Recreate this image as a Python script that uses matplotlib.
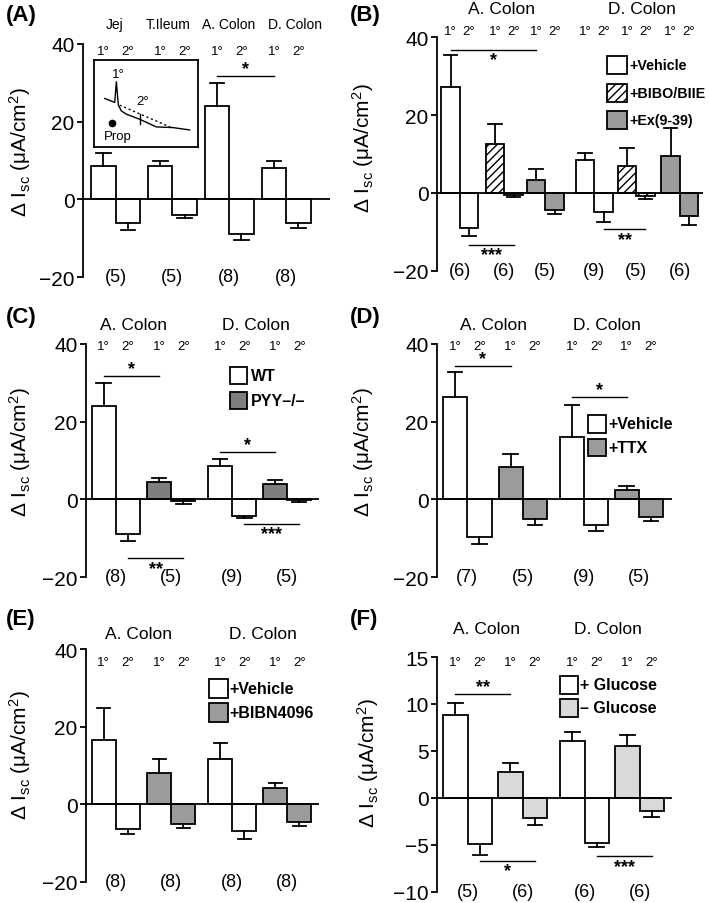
import matplotlib
matplotlib.use('Agg')
import matplotlib.pyplot as plt
from matplotlib.patches import Rectangle

plt.rcParams['font.family'] = ['Liberation Sans', 'DejaVu Sans']
plt.rcParams['mathtext.fontset'] = 'custom'
plt.rcParams['mathtext.rm'] = 'Liberation Sans'
plt.rcParams['mathtext.it'] = 'Liberation Sans:italic'
plt.rcParams['mathtext.bf'] = 'Liberation Sans:bold'
plt.rcParams['hatch.linewidth'] = 1.0

W, H = 709, 904
fig = plt.figure(figsize=(W / 100, H / 100), dpi=100)


def fx(x):
    return x / W


def fy(y):
    return 1 - y / H


WHITE = 'white'
GRAY = '#9b9b9b'
DARK = '#7f7f7f'
LIGHT = '#d9d9d9'

# ---------------- data ----------------
pulse_labels = ['1°', '2°']

a_regions = ['Jej', 'T.Ileum', 'A. Colon', 'D. Colon']
a_means = [8.5, -6.2, 8.7, -4.1, 24.0, -8.8, 8.0, -6.0]
a_errs = [3.5, 1.7, 1.3, 0.6, 6.0, 1.7, 1.8, 1.3]
a_n = ['(5)', '(5)', '(8)', '(8)']
a_sig = [(4, 6, 31.8, '*', 'above')]

b_regions = ['A. Colon', 'D. Colon']
b_treatments = ['+Vehicle', '+BIBO/BIIE', '+Ex(9-39)']
b_means = [27.2, -9.0, 12.6, -0.6, 3.4, -4.5, 8.5, -4.9, 6.8, -0.7, 9.6, -5.9]
b_errs = [8.3, 2.0, 5.0, 0.4, 2.7, 1.0, 1.8, 2.7, 4.7, 0.8, 7.1, 2.4]
b_n = ['(6)', '(6)', '(5)', '(9)', '(5)', '(6)']
b_sig = [(0, 4, 36.8, '*', 'below'), (1, 3, -13.3, '***', 'below'),
         (7, 9, -9.4, '**', 'below')]

c_regions = ['A. Colon', 'D. Colon']
c_treatments = ['WT', 'PYY\u2013/\u2013']
c_means = [24.0, -8.8, 4.5, -0.4, 8.6, -4.3, 3.9, -0.3]
c_errs = [6.0, 1.9, 1.1, 0.7, 1.7, 0.6, 1.2, 0.3]
c_n = ['(8)', '(5)', '(9)', '(5)']
c_sig = [(0, 2, 31.7, '*', 'above'), (1, 3, -15.2, '**', 'below'),
         (4, 6, 12.3, '*', 'above'), (5, 7, -6.3, '***', 'below')]

d_regions = ['A. Colon', 'D. Colon']
d_treatments = ['+Vehicle', '+TTX']
d_means = [26.4, -9.7, 8.4, -5.0, 16.0, -6.7, 2.4, -4.5]
d_errs = [6.3, 1.9, 3.4, 1.7, 8.4, 1.4, 1.1, 1.2]
d_n = ['(7)', '(5)', '(9)', '(5)']
d_sig = [(0, 2, 34.3, '*', 'above'), (4, 6, 26.4, '*', 'above')]

e_regions = ['A. Colon', 'D. Colon']
e_treatments = ['+Vehicle', '+BIBN4096']
e_means = [16.5, -6.3, 8.1, -5.0, 11.8, -6.9, 4.3, -4.5]
e_errs = [8.2, 1.3, 3.7, 1.0, 4.1, 1.9, 1.1, 1.1]
e_n = ['(8)', '(8)', '(8)', '(8)']
e_sig = []

f_regions = ['A. Colon', 'D. Colon']
f_treatments = ['+ Glucose', '\u2013 Glucose']
f_means = [8.8, -4.9, 2.8, -2.1, 6.1, -4.8, 5.5, -1.4]
f_errs = [1.3, 1.2, 0.9, 0.8, 0.9, 0.4, 1.2, 0.6]
f_n = ['(5)', '(6)', '(6)', '(6)']
f_sig = [(0, 2, 11.1, '**', 'above'), (1, 3, -6.7, '*', 'below'),
         (5, 7, -6.2, '***', 'below')]

# inset schematic trace (axes fraction)
trace_x = [0.103, 0.199, 0.215, 0.234, 0.263, 0.311, 0.439, 0.599, 0.760, 0.920]
trace_y = [0.558, 0.512, 0.750, 0.481, 0.415, 0.377, 0.319, 0.231, 0.223, 0.196]
dotted_x = [0.247, 0.744]
dotted_y = [0.481, 0.223]

YLABEL = 'Δ I$_{\\mathrm{sc}}$ (μA/cm$^{2}$)'
LW = 1.3


def panel(box, ylim, yticks, xlim, starts, means, errs, fills, hatches, nlabels,
          regions, region_x, region_y, region_fs, pulse_y, sig, cap_half):
    left, top, right, bottom = box
    ax = fig.add_axes([fx(left), fy(bottom), (right - left) / W, (bottom - top) / H])
    ax.set_xlim(*xlim)
    ax.set_ylim(*ylim)
    for s in ['top', 'right', 'bottom']:
        ax.spines[s].set_visible(False)
    ax.spines['left'].set_linewidth(LW)
    ax.set_xticks([])
    ax.set_yticks(yticks)
    ax.tick_params(axis='y', direction='out', length=4, width=LW, pad=2, labelsize=15)
    ax.patch.set_alpha(0)

    xs = [starts[i // 2] + (i % 2) + 0.5 for i in range(len(means))]
    for i, (x, m, e) in enumerate(zip(xs, means, errs)):
        g = i // 2
        ax.bar(x, m, width=1.0, facecolor=fills[g], edgecolor='black',
               linewidth=LW, hatch=hatches[g], zorder=2)
        tip = m + e if m >= 0 else m - e
        ax.plot([x, x], [m, tip], color='black', lw=LW, zorder=3)
        ax.plot([x - cap_half, x + cap_half], [tip, tip], color='black', lw=LW, zorder=3)
        ax.text(x, pulse_y, pulse_labels[i % 2], ha='center', va='center',
                fontsize=9.5, clip_on=False)
    ax.axhline(0, color='black', lw=LW, zorder=4)

    for g, lab in enumerate(nlabels):
        ax.text(starts[g] + 1.0, ylim[0], lab, ha='center', va='center',
                fontsize=13, clip_on=False)
    for lab, rx in zip(regions, region_x):
        ax.text(rx, region_y, lab, ha='center', va='center', fontsize=region_fs,
                clip_on=False)
    for i, j, y, s, pos in sig:
        ax.plot([xs[i], xs[j]], [y, y], color='black', lw=1.0, clip_on=False)
        off = 2.0 if pos == 'above' else -10.5
        ax.annotate(s, ((xs[i] + xs[j]) / 2, y), xytext=(0, off),
                    textcoords='offset points', ha='center', va='baseline',
                    fontsize=13, fontweight='bold', annotation_clip=False)
    return ax


def legend(entries, x0, top0, w, h, step, tx, fs=11.5):
    for k, (lab, fc, ht) in enumerate(entries):
        t = top0 + k * step
        r = Rectangle((fx(x0), fy(t + h)), w / W, h / H, transform=fig.transFigure,
                      facecolor=fc, edgecolor='black', lw=LW, hatch=ht)
        fig.add_artist(r)
        fig.text(fx(tx), fy(t + h / 2), lab, ha='left', va='center',
                 fontsize=fs, fontweight='bold')


Y4 = [-20, 0, 20, 40]

# ---- Panel A ----
axA = panel((83, 45, 330, 278), (-20, 40), Y4, (-0.34, 9.8), [0, 2.33, 4.66, 7.0],
            a_means, a_errs, [WHITE] * 4, [None] * 4, a_n,
            a_regions, [0.97, 3.14, 5.64, 8.35], 45.1, 10, 38.2, a_sig, 0.3)

ins = fig.add_axes([fx(94), fy(148), (198 - 94) / W, (148 - 61) / H])
ins.set_xlim(0, 1)
ins.set_ylim(0, 1)
ins.set_xticks([])
ins.set_yticks([])
for s in ins.spines.values():
    s.set_linewidth(LW)
ins.plot(trace_x, trace_y, color='black', lw=1.0)
ins.plot(dotted_x, dotted_y, color='black', lw=1.0, ls=(0, (1.5, 2)))
ins.plot([0.439, 0.439], [0.377, 0.27], color='black', lw=1.0)
ins.plot([0.176], [0.273], 'o', color='black', ms=4.5)
ins.text(0.23, 0.84, '1°', ha='center', va='center', fontsize=9.5)
ins.text(0.47, 0.53, '2°', ha='center', va='center', fontsize=9.5)
ins.text(0.23, 0.127, 'Prop', ha='center', va='center', fontsize=9.5)

# ---- Panel B ----
panel((437, 38.3, 703, 271.7), (-20, 40), Y4, (-0.23, 14.1),
      [0, 2.4, 4.6, 7.25, 9.5, 11.85], b_means, b_errs,
      [WHITE, WHITE, GRAY, WHITE, WHITE, GRAY],
      [None, '////', None, None, '////', None], b_n,
      b_regions, [3.22, 10.8], 47.3, 12.5, 41.6, b_sig, 0.36)
legend(list(zip(b_treatments, [WHITE, WHITE, GRAY], [None, '////', None])),
       607, 57, 20, 18, 27.5, 629, fs=10.3)

# ---- Panel C ----
panel((86, 345, 319, 578), (-20, 40), Y4, (-0.23, 9.42), [0, 2.3, 4.83, 7.1],
      c_means, c_errs, [WHITE, DARK, WHITE, DARK], [None] * 4, c_n,
      c_regions, [1.72, 6.82], 45.1, 12.5, 39.5, c_sig, 0.3)
legend(list(zip(c_treatments, [WHITE, DARK], [None, None])), 230, 368, 17, 17, 25, 251)

# ---- Panel D ----
panel((437, 345, 672, 578), (-20, 40), Y4, (-0.25, 9.45), [0, 2.29, 4.82, 7.08],
      d_means, d_errs, [WHITE, GRAY, WHITE, GRAY], [None] * 4, d_n,
      d_regions, [2.1, 6.77], 44.9, 12.5, 39.5, d_sig, 0.3)
legend(list(zip(d_treatments, [WHITE, GRAY], [None, None])), 588, 416, 18, 17.5, 23.5, 608)

# ---- Panel E ----
panel((86, 650, 319, 883), (-20, 40), Y4, (-0.23, 9.42), [0, 2.3, 4.83, 7.1],
      e_means, e_errs, [WHITE, GRAY, WHITE, GRAY], [None] * 4, e_n,
      e_regions, [1.93, 7.11], 43.9, 12.5, 36.7, e_sig, 0.27)
legend(list(zip(e_treatments, [WHITE, GRAY], [None, None])), 209, 680, 19, 18.5, 24, 229)

# ---- Panel F ----
panel((437, 658, 672, 893), (-10, 15), [-10, -5, 0, 5, 10, 15], (-0.245, 9.32),
      [0, 2.24, 4.76, 7.0], f_means, f_errs, [WHITE, LIGHT, WHITE, LIGHT],
      [None] * 4, f_n, f_regions, [1.79, 6.71], 18.0, 12.5, 14.5, f_sig, 0.3)
legend(list(zip(f_treatments, [WHITE, LIGHT], [None, None])), 560, 677, 18, 18, 22.5, 580)

# ---- y labels and panel letters ----
for (x, y) in [(20, 152), (363, 148), (20, 452), (363, 452), (20, 755), (368, 763)]:
    fig.text(fx(x), fy(y), YLABEL, rotation=90, ha='center', va='center', fontsize=15)
for lab, (x, y) in zip(['(A)', '(B)', '(C)', '(D)', '(E)', '(F)'],
                       [(6, 16), (350, 16), (6, 318), (350, 318), (6, 620), (350, 620)]):
    fig.text(fx(x), fy(y), lab, ha='left', va='center', fontsize=16, fontweight='bold')

fig.savefig('out.png', dpi=100)
